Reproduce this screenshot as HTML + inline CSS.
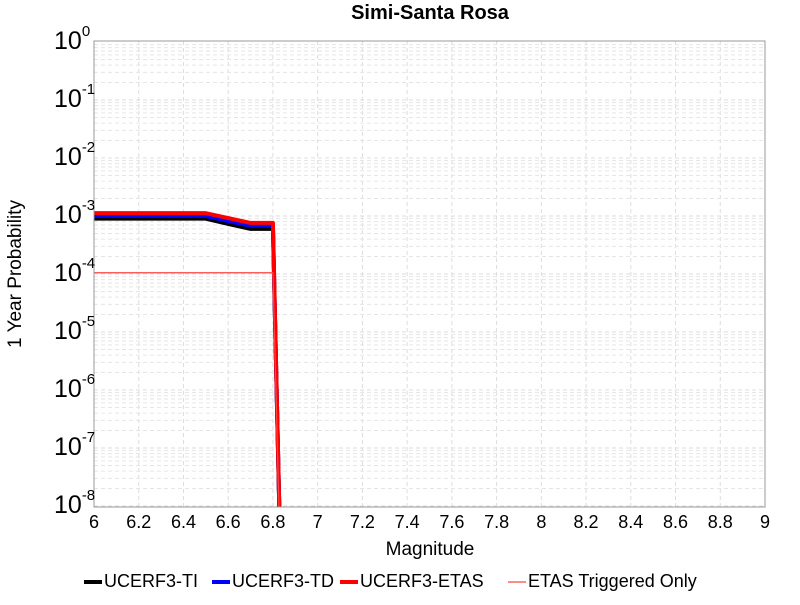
<!DOCTYPE html>
<html><head><meta charset="utf-8"><style>
body{margin:0;background:#fff;font-family:"Liberation Sans",sans-serif}
</style></head><body>
<svg id="chart" width="800" height="600" xmlns="http://www.w3.org/2000/svg" font-family="Liberation Sans, sans-serif">
<defs><clipPath id="clip"><rect x="94" y="41" width="671" height="466"/></clipPath></defs>
<text x="430" y="19" text-anchor="middle" font-size="20" font-weight="bold">Simi-Santa Rosa</text>
<g id="grid"></g>
<g id="series" clip-path="url(#clip)"></g>
<rect x="94" y="41" width="671" height="466" fill="none" stroke="#999" stroke-width="1"/>
<g id="xticks"></g><g id="yticks"></g>
<text x="430" y="555" text-anchor="middle" font-size="19">Magnitude</text>
<text transform="translate(21,274) rotate(-90)" text-anchor="middle" font-size="19">1 Year Probability</text>
<g id="legend"></g>
</svg>
<script>
const xTicks=[6,6.2,6.4,6.6,6.8,7,7.2,7.4,7.6,7.8,8,8.2,8.4,8.6,8.8,9];
const yDecades=[0,-1,-2,-3,-4,-5,-6,-7,-8];
const mags=[6.0,6.1,6.2,6.3,6.4,6.5,6.6,6.7,6.8,6.84];
const ti=[9e-4,9e-4,9e-4,9e-4,9e-4,9e-4,7.3e-4,6e-4,6e-4,1e-10];
const td=[1e-3,1e-3,1e-3,1e-3,1e-3,1e-3,8.2e-4,6.8e-4,6.8e-4,1e-10];
const etas=[1.12e-3,1.12e-3,1.12e-3,1.12e-3,1.12e-3,1.12e-3,9.2e-4,7.6e-4,7.6e-4,1e-10];
const trig=[1.05e-4,1.05e-4,1.05e-4,1.05e-4,1.05e-4,1.05e-4,1.05e-4,1.05e-4,1.05e-4,1e-10];
const seriesNames=["UCERF3-TI","UCERF3-TD","UCERF3-ETAS","ETAS Triggered Only"];
const NS="http://www.w3.org/2000/svg";
const X=v=>94+(v-6)/3*671;
const Y=v=>42+(0-Math.log10(v))*58;
function mk(tag,attrs,parent){const e=document.createElementNS(NS,tag);for(const k in attrs)e.setAttribute(k,attrs[k]);parent.appendChild(e);return e;}
const grid=document.getElementById('grid');
for(const t of xTicks){const l=mk('line',{x1:X(t),x2:X(t),y1:41,y2:507,stroke:'#ddd','stroke-dasharray':'4,3'},grid);


const tx=mk('text',{x:X(t),y:528,'text-anchor':'middle','font-size':18},document.getElementById('xticks'));tx.textContent=String(t);

}
for(const d of yDecades){for(let m=1;m<10;m++){const v=m*Math.pow(10,d-1);const y=Y(v);if(y<41||y>507)continue;
const l=mk('line',{x1:94,x2:765,y1:y,y2:y,stroke:m===1?'#ddd':'#e6e6e6','stroke-dasharray':'4,3'},grid);

}
const y=Y(Math.pow(10,d));const tx=mk('text',{x:54,y:y+7,'text-anchor':'start','font-size':25},document.getElementById('yticks'));
tx.innerHTML='10<tspan dy="-13" font-size="15">'+d+'</tspan>';

}
const sg=document.getElementById('series');
const data=[ti,td,etas,trig],cols=['#000','#00f','#f00','#f44'],widths=[4,4,4,1.2];
const order=[0,1,2,3];
for(const i of order){const pts=mags.map((m,j)=>X(m)+','+Y(data[i][j])).join(' ');
const p=mk('polyline',{points:pts,fill:'none',stroke:cols[i],'stroke-width':widths[i],'stroke-linejoin':'round'},sg);

}
const lg=document.getElementById('legend');const lx=[84,212,340,508];
seriesNames.forEach((n,i)=>{const l=mk('line',{x1:lx[i],x2:lx[i]+18,y1:582,y2:582,stroke:cols[i],'stroke-width':widths[i]},lg);


const t=mk('text',{x:lx[i]+20,y:587,'font-size':18},lg);t.textContent=n;

});
</script>
</body></html>
